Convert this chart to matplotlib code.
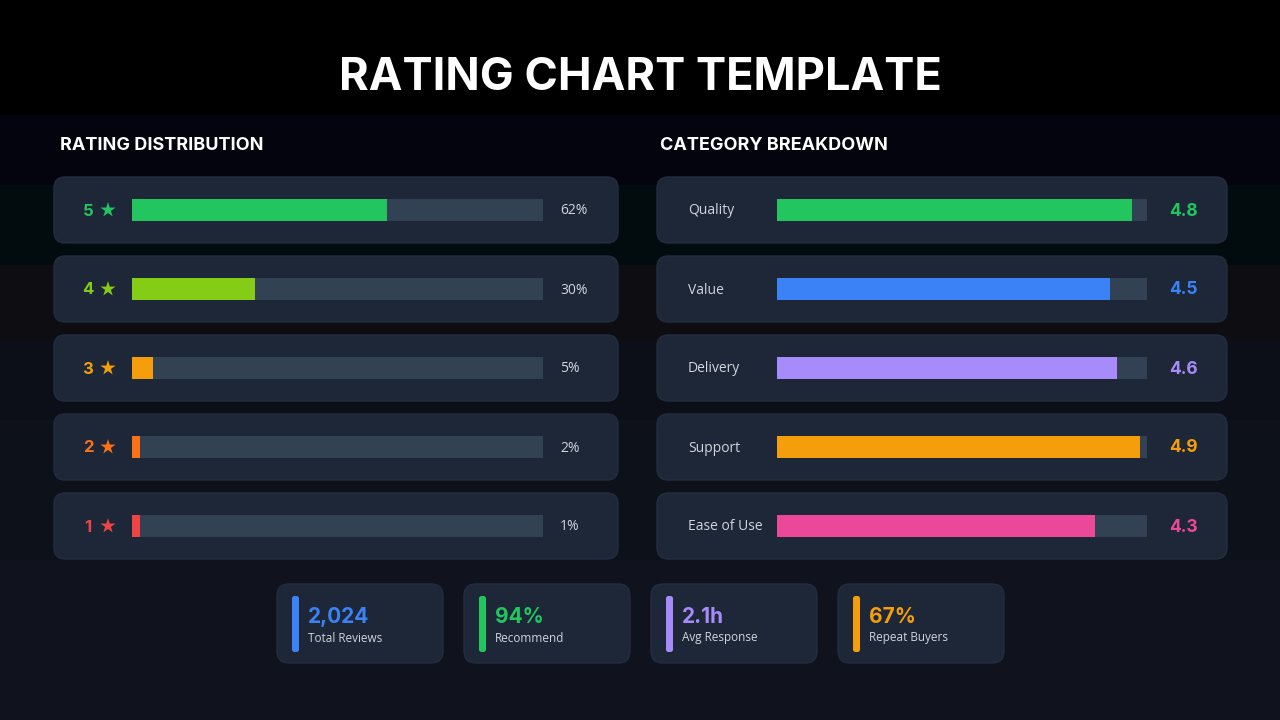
import matplotlib
matplotlib.use("Agg")
import matplotlib.pyplot as plt
import numpy as np
from matplotlib.patches import FancyBboxPatch, Rectangle

# ---- data ----
stars = [5, 4, 3, 2, 1]
dist_pct = [62, 30, 5, 2, 1]
star_colors = ["#22c55e", "#84cc16", "#f59e0b", "#f97316", "#ef4444"]

categories = ["Quality", "Value", "Delivery", "Support", "Ease of Use"]
cat_scores = [4.8, 4.5, 4.6, 4.9, 4.3]
cat_colors = ["#22c55e", "#3b82f6", "#a78bfa", "#f59e0b", "#ec4899"]

kpi_values = ["2,024", "94%", "2.1h", "67%"]
kpi_labels = ["Total Reviews", "Recommend", "Avg Response", "Repeat Buyers"]
kpi_colors = ["#3b82f6", "#22c55e", "#a78bfa", "#f59e0b"]

HEAD = "Inter"
BODY = "Open Sans"
CARD = "#1e2738"
CARD_EDGE = "#242d3f"
TRACK = "#334155"
LABEL = "#d1d5db"

W, H = 1280, 720
fig = plt.figure(figsize=(12.8, 7.2), dpi=100)
bg = fig.add_axes([0, 0, 1, 1])
bg.set_xlim(0, W)
bg.set_ylim(H, 0)
bg.axis("off")

# background bands
bands = [
    (0, 115, "#000000"),
    (115, 185, "#03040e"),
    (185, 265, "#020b0d"),
    (265, 340, "#0e0d12"),
    (340, 420, "#0c0f17"),
    (420, 560, "#0d1119"),
    (560, 720, "#10131d"),
]
for y0, y1, c in bands:
    bg.add_patch(Rectangle((0, y0), W, y1 - y0, facecolor=c, edgecolor="none", zorder=0))


def card(x, y, w, h, r=11):
    bg.add_patch(FancyBboxPatch((x + r, y + r), w - 2 * r, h - 2 * r,
                                boxstyle=f"round,pad={r},rounding_size={r}",
                                facecolor=CARD, edgecolor=CARD_EDGE, linewidth=1.0, zorder=1))


bg.text(640, 78, "RATING CHART TEMPLATE", ha="center", va="center", color="white",
        fontsize=32.5, fontweight="bold", family=HEAD)
bg.text(60, 146, "RATING DISTRIBUTION", ha="left", va="center", color="white",
        fontsize=13, fontweight="bold", family=HEAD)
bg.text(660, 146, "CATEGORY BREAKDOWN", ha="left", va="center", color="white",
        fontsize=13, fontweight="bold", family=HEAD)

row_y = np.array([210, 289, 368, 447, 526])
card_h = 66

# left panel cards and labels
for i, y in enumerate(row_y):
    card(54, y - card_h / 2, 564, card_h)
    bg.text(88, y + 1, str(stars[i]), ha="center", va="center", color=star_colors[i],
            fontsize=12, fontweight="bold", family=HEAD, zorder=3)
    bg.text(560, y + 1, f"{dist_pct[i]}%", ha="left", va="center", color=LABEL,
            fontsize=10, family=BODY, zorder=3)
bg.scatter(np.full(len(row_y), 108), row_y, marker="*", s=130, c=star_colors,
           linewidths=0, zorder=3)

# right panel cards and labels
for i, y in enumerate(row_y):
    card(657, y - card_h / 2, 570, card_h)
    bg.text(688, y + 1, categories[i], ha="left", va="center", color=LABEL,
            fontsize=10, family=BODY, zorder=3)
    bg.text(1183, y + 1, f"{cat_scores[i]:.1f}", ha="center", va="center", color=cat_colors[i],
            fontsize=12.5, fontweight="bold", family=HEAD, zorder=3)

# bar axes (pixel rows, value x-scale)
left_ax = fig.add_axes([132 / W, 0, (543 - 132) / W, 1])
left_ax.set_xlim(0, 100)
left_ax.set_ylim(H, 0)
left_ax.axis("off")
left_ax.barh(row_y, [100] * len(row_y), height=22, color=TRACK, zorder=1)
left_ax.barh(row_y, np.maximum(dist_pct, 2), height=22, color=star_colors, zorder=2)

right_ax = fig.add_axes([777 / W, 0, (1147 - 777) / W, 1])
right_ax.set_xlim(0, 5)
right_ax.set_ylim(H, 0)
right_ax.axis("off")
right_ax.barh(row_y, [5] * len(row_y), height=22, color=TRACK, zorder=1)
right_ax.barh(row_y, cat_scores, height=22, color=cat_colors, zorder=2)

# KPI cards
kpi_x = [277, 464, 651, 838]
for x, v, lab, c in zip(kpi_x, kpi_values, kpi_labels, kpi_colors):
    card(x, 584, 166, 79, r=12)
    bg.add_patch(FancyBboxPatch((x + 17.5, 598.5), 2, 51,
                                boxstyle="round,pad=2.5,rounding_size=2.5",
                                facecolor=c, edgecolor="none", zorder=3))
    bg.text(x + 31, 617, v, ha="left", va="center", color=c, fontsize=15,
            fontweight="bold", family=HEAD, zorder=3)
    bg.text(x + 31, 638, lab, ha="left", va="center", color=LABEL, fontsize=8.5,
            family=BODY, zorder=3)

fig.savefig("out.png", dpi=100, facecolor="black")
